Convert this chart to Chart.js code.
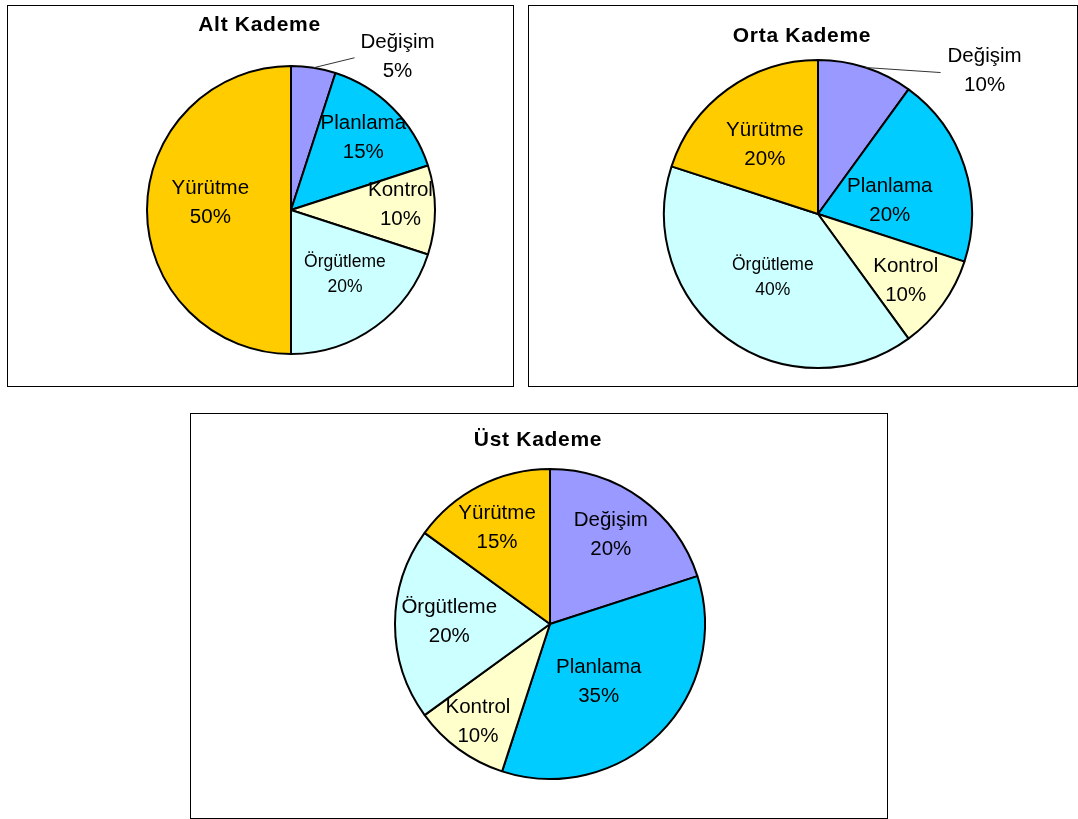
<!DOCTYPE html>
<html>
<head>
<meta charset="utf-8">
<script src="https://cdn.jsdelivr.net/npm/chart.js@4.4.1/dist/chart.umd.min.js"></script>
<style>
  html, body { margin: 0; padding: 0; background: #fff; }
  body { width: 1078px; height: 819px; position: relative; overflow: hidden; }
  .box { position: absolute; border: 1px solid #000; box-sizing: border-box; background: #fff; }
  .box canvas { display: block; }
</style>
</head>
<body>
<div class="box" id="b1" style="left:7px;top:5px;width:507px;height:382px;"><canvas id="c1" width="505" height="380"></canvas></div>
<div class="box" id="b2" style="left:528px;top:5px;width:550px;height:382px;"><canvas id="c2" width="548" height="380"></canvas></div>
<div class="box" id="b3" style="left:190px;top:413px;width:698px;height:406px;"><canvas id="c3" width="696" height="404"></canvas></div>
<script>
// ---- data ----
const categories = ['Değişim', 'Planlama', 'Kontrol', 'Örgütleme', 'Yürütme'];
const altKademe  = [5, 15, 10, 20, 50];
const ortaKademe = [10, 20, 10, 40, 20];
const ustKademe  = [20, 35, 10, 20, 15];
const titles = ['Alt Kademe', 'Orta Kademe', 'Üst Kademe'];
const sliceColors = ['#9999FF', '#00CCFF', '#FFFFCC', '#CCFFFF', '#FFCC00'];

const FONT = '"Liberation Sans", Arial, sans-serif';

// label layout (style config): per slice either inside {f, dx, dy, small}
// or outside {out:true, tx, ty, lx, ly}
const layouts = [
  { pad: {left:139, right:78, top:60, bottom:32}, radius: 144, titleY: 19,
    labels: [
      {out:true, tx:84, ty:-11, lx:41, ly:-10},
      {f:0.71, dx:0, dy:0},
      {f:0.76, dx:0, dy:-5},
      {f:0.59, dx:4, dy:-4, small:true},
      {f:0.56, dx:0, dy:-7}
    ]},
  { pad: {left:135, right:105, top:54, bottom:18}, radius: 154, titleY: 30,
    labels: [
      {out:true, tx:119, ty:3.5, lx:75, ly:5},
      {f:0.49, dx:0, dy:10},
      {f:0.72, dx:-2, dy:2},
      {f:0.51, dx:1, dy:0, small:true},
      {f:0.565, dx:-2, dy:1}
    ]},
  { pad: {left:204, right:182, top:55, bottom:39}, radius: 155, titleY: 26,
    labels: [
      {f:0.70, dx:-3, dy:-1},
      {f:0.49, dx:-5, dy:4},
      {f:0.78, dx:-1, dy:0},
      {f:0.65, dx:0, dy:-2},
      {f:0.71, dx:-3, dy:2}
    ]}
];

const pieLabelsPlugin = {
  id: 'pieLabels',
  afterDatasetsDraw(chart, args, opts) {
    const ctx = chart.ctx;
    const meta = chart.getDatasetMeta(0);
    const values = chart.data.datasets[0].data;
    const total = values.reduce((a, b) => a + b, 0);
    const lay = opts.layout;
    ctx.save();
    // title
    ctx.fillStyle = '#000';
    ctx.font = 'bold 21px ' + FONT;
    ctx.textAlign = 'center';
    ctx.textBaseline = 'middle';
    if ('letterSpacing' in ctx) ctx.letterSpacing = '0.7px';
    ctx.fillText(opts.title, chart.width / 2 - 1, lay.titleY);
    if ('letterSpacing' in ctx) ctx.letterSpacing = '0px';

    meta.data.forEach((arc, i) => {
      const p = arc.getProps(['x', 'y', 'startAngle', 'endAngle', 'outerRadius'], true);
      const mid = (p.startAngle + p.endAngle) / 2;
      const L = lay.labels[i];
      const name = chart.data.labels[i];
      const pct = Math.round(values[i] / total * 100) + '%';
      let cx, cy, size = 20.5, lh = 29;
      if (L.out) {
        const ex = p.x + Math.cos(mid) * p.outerRadius;
        const ey = p.y + Math.sin(mid) * p.outerRadius;
        ctx.strokeStyle = '#333';
        ctx.lineWidth = 1;
        ctx.beginPath();
        ctx.moveTo(ex, ey);
        ctx.lineTo(ex + L.lx, ey + L.ly);
        ctx.stroke();
        cx = ex + L.tx; cy = ey + L.ty;
      } else {
        cx = p.x + Math.cos(mid) * p.outerRadius * L.f + L.dx;
        cy = p.y + Math.sin(mid) * p.outerRadius * L.f + L.dy;
      }
      if (L.small) { size = 17.5; lh = 25; }
      ctx.font = size + 'px ' + FONT;
      ctx.fillStyle = '#000';
      ctx.textAlign = 'center';
      ctx.textBaseline = 'middle';
      ctx.fillText(name, cx, cy - lh / 2);
      ctx.fillText(pct, cx, cy + lh / 2);
    });
    ctx.restore();
  }
};

function makePie(id, values, idx) {
  const lay = layouts[idx];
  return new Chart(document.getElementById(id), {
    type: 'pie',
    data: {
      labels: categories,
      datasets: [{
        data: values,
        backgroundColor: sliceColors,
        borderColor: '#000',
        borderWidth: 2,
        hoverOffset: 0
      }]
    },
    options: {
      responsive: false,
      animation: false,
      radius: lay.radius,
      layout: { padding: lay.pad },
      plugins: {
        legend: { display: false },
        tooltip: { enabled: false },
        title: { display: false },
        pieLabels: { title: titles[idx], layout: lay }
      }
    },
    plugins: [pieLabelsPlugin]
  });
}

makePie('c1', altKademe, 0);
makePie('c2', ortaKademe, 1);
makePie('c3', ustKademe, 2);
</script>
</body>
</html>
